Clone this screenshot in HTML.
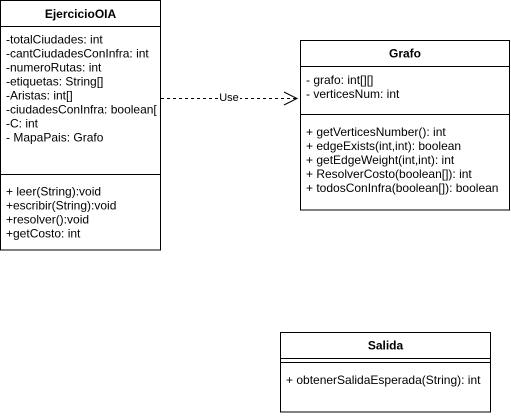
<!DOCTYPE html>
<html><head><meta charset="utf-8"><style>
html,body{margin:0;padding:0;background:#fff;}
svg{display:block;font-family:"Liberation Sans",Arial,sans-serif;font-size:12px;}
</style></head><body>
<svg width="511" height="416" viewBox="0 0 511 416" xmlns="http://www.w3.org/2000/svg">
<g fill="none" stroke="#000" stroke-width="1">
<rect x="0.5" y="0.5" width="160" height="249.5"/>
<line x1="0.5" y1="26.5" x2="160.5" y2="26.5"/>
<line x1="0.5" y1="174.5" x2="160.5" y2="174.5"/>
<rect x="300.5" y="40.5" width="209" height="169.5"/>
<line x1="300.5" y1="66.5" x2="509.5" y2="66.5"/>
<line x1="300.5" y1="114.5" x2="509.5" y2="114.5"/>
<rect x="280.5" y="332.5" width="210" height="79.5"/>
<line x1="280.5" y1="358.5" x2="490.5" y2="358.5"/>
<line x1="280.5" y1="362.5" x2="490.5" y2="362.5"/>
<line x1="161" y1="98.5" x2="296" y2="98.5" stroke-dasharray="3,3"/>
<polyline points="284,92 297,98.5 284,105"/>
</g>
<rect x="218" y="92" width="22" height="12" fill="#fff"/>
<g fill="#000" dominant-baseline="central">
<text x="229" y="98" text-anchor="middle" font-size="11">Use</text>
<text x="80.5" y="14" text-anchor="middle" font-weight="bold">EjercicioOIA</text>
<text x="6" y="39.5">-totalCiudades: int</text>
<text x="6" y="53.5">-cantCiudadesConInfra: int</text>
<text x="6" y="67.5">-numeroRutas: int</text>
<text x="6" y="81.5">-etiquetas: String[]</text>
<text x="6" y="95.5">-Aristas: int[]</text>
<text x="6" y="109.5">-ciudadesConInfra: boolean[</text>
<text x="6" y="123.5">-C: int</text>
<text x="6" y="137.5">- MapaPais: Grafo</text>
<text x="6" y="191.5">+ leer(String):void</text>
<text x="6" y="205.5">+escribir(String):void</text>
<text x="6" y="219.5">+resolver():void</text>
<text x="6" y="233.5">+getCosto: int</text>
<text x="405" y="53.5" text-anchor="middle" font-weight="bold">Grafo</text>
<text x="306" y="80">- grafo: int[][]</text>
<text x="306" y="94">- verticesNum: int</text>
<text x="306" y="132">+ getVerticesNumber(): int</text>
<text x="306" y="146">+ edgeExists(int,int): boolean</text>
<text x="306" y="160">+ getEdgeWeight(int,int): int</text>
<text x="306" y="174">+ ResolverCosto(boolean[]): int</text>
<text x="306" y="188">+ todosConInfra(boolean[]): boolean</text>
<text x="385.5" y="345.5" text-anchor="middle" font-weight="bold">Salida</text>
<text x="286" y="380">+ obtenerSalidaEsperada(String): int</text>
</g>
</svg>
</body></html>
